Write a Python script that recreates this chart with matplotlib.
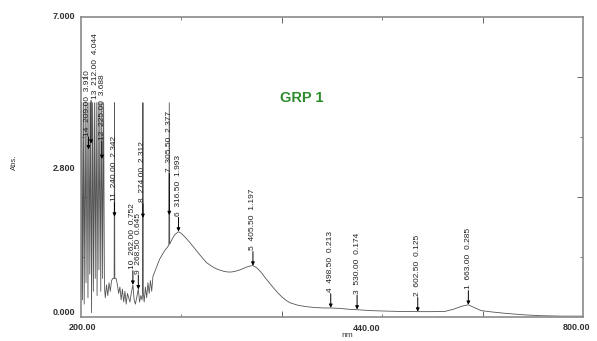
import matplotlib
matplotlib.use("Agg")
import matplotlib.pyplot as plt
from matplotlib.ticker import FixedLocator

plt.rcParams["font.family"] = ["Liberation Sans", "DejaVu Sans"]

# ── spectrum (nm, Abs) ──────────────────────────────────────────────────────
wavelength = [
    200.0, 200.8, 201.8, 202.8, 203.8, 205.0, 206.0, 207.2, 208.3, 209.5,
    210.5, 211.6, 212.6, 213.8, 214.8, 216.0, 217.0, 218.2, 219.2, 220.4,
    221.4, 222.6, 223.6, 224.8, 225.8, 227.0, 228.0, 229.0, 230.5,
    232.0, 233.5, 235.0, 236.5, 238.0, 239.6, 240.0, 240.4, 242.0, 243.5,
    245.0, 246.5, 248.0, 249.5, 251.0, 252.5, 254.0, 255.5, 257.0, 258.5,
    260.0, 262.0, 263.5, 265.0, 266.5, 268.5, 270.0, 271.5, 273.0, 273.7,
    274.0, 274.3, 275.5, 277.0, 278.5, 280.0, 281.5, 283.0, 284.5, 286.0,
    288.0, 291.0, 294.0, 297.0, 300.0, 303.0, 305.0, 305.5, 306.0, 309.0,
    312.0, 316.5, 320.0, 325.0, 330.0, 335.0, 340.0, 345.0, 350.0, 355.0,
    360.0, 365.0, 370.0, 375.0, 380.0, 385.0, 390.0, 395.0, 400.0, 405.5,
    410.0, 415.0, 420.0, 425.0, 430.0, 435.0, 440.0, 445.0, 450.0, 460.0,
    470.0, 480.0, 490.0, 498.5, 510.0, 520.0, 530.0, 545.0, 560.0, 580.0,
    602.5, 620.0, 635.0, 645.0, 655.0, 663.0, 670.0, 678.0, 690.0, 710.0,
    730.0, 750.0, 775.0, 800.0,
]
absorbance = [
    0.60, 5.00, 0.40, 5.00, 0.30, 5.00, 0.80, 5.00, 0.45, 5.00,
    1.00, 5.00, 0.10, 5.00, 0.60, 5.00, 0.90, 5.00, 0.50, 5.00,
    1.10, 5.00, 0.60, 5.00, 0.90, 5.00, 0.70, 0.45, 0.75,
    0.50, 0.80, 0.60, 0.85, 0.90, 0.90, 5.00, 0.90, 0.90, 0.75,
    0.55, 0.70, 0.40, 0.65, 0.35, 0.60, 0.30, 0.55, 0.45, 0.35,
    0.55, 0.75, 0.40, 0.30, 0.45, 0.65, 0.35, 0.50, 0.40, 0.60,
    5.00, 0.60, 0.35, 0.70, 0.45, 0.80, 0.55, 0.85, 0.60, 0.95,
    1.05, 1.20, 1.35, 1.45, 1.55, 1.62, 1.68, 5.00, 1.70, 1.82,
    1.92, 1.99, 1.95, 1.85, 1.74, 1.62, 1.50, 1.38, 1.27, 1.20,
    1.14, 1.10, 1.07, 1.05, 1.05, 1.07, 1.10, 1.14, 1.18, 1.20,
    1.15, 1.05, 0.92, 0.80, 0.68, 0.57, 0.47, 0.39, 0.33, 0.27,
    0.24, 0.22, 0.21, 0.21, 0.20, 0.18, 0.17, 0.15, 0.14, 0.13,
    0.125, 0.125, 0.13, 0.18, 0.25, 0.285, 0.22, 0.15, 0.12, 0.08,
    0.05, 0.03, 0.02, 0.02,
]

# peak pick table
peak_no = [14, 13, 12, 11, 10, 9, 8, 7, 6, 5, 4, 3, 2, 1]
peak_nm = [209.00, 212.00, 225.00, 240.00, 262.00, 268.50, 274.00,
           305.50, 316.50, 405.50, 498.50, 530.00, 602.50, 663.00]
peak_abs = [3.910, 4.044, 3.688, 2.342, 0.752, 0.645, 2.312,
            2.377, 1.993, 1.197, 0.213, 0.174, 0.125, 0.285]

# crowded labels are pushed aside: peak -> (text x in nm, text base in Abs)
label_shift = {14: (208.0, 4.20), 13: (217.5, 5.05), 12: (225.5, 4.10),
               7: (305.5, 3.35)}

fig = plt.figure(figsize=(5.97, 3.41), dpi=100)
ax = fig.add_axes([0.1357, 0.0704, 0.8408, 0.8798])

ax.plot(wavelength, absorbance, color="#555555", lw=0.6)

for n, wl, a in zip(peak_no, peak_nm, peak_abs):
    tx, base = label_shift.get(n, (wl, a + 0.33))
    ax.annotate("", xy=(wl, a), xytext=(wl, base),
                arrowprops=dict(arrowstyle="-|>", color="black", lw=0.7,
                                mutation_scale=5, shrinkA=0, shrinkB=0))
    ax.text(tx, base + 0.03, f"{n}  {wl:.2f}  {a:.3f}", rotation=90,
            ha="center", va="bottom", fontsize=6, color="#222222")

ax.set_xlim(200, 800)
ax.set_ylim(0, 7)

for sp in ax.spines.values():
    sp.set_color("#8a8a8a")
    sp.set_linewidth(1.2)

ax.xaxis.set_major_locator(FixedLocator([440, 680]))
ax.xaxis.set_minor_locator(FixedLocator([320, 560]))
ax.yaxis.set_major_locator(FixedLocator([2.8, 5.6]))
ax.yaxis.set_minor_locator(FixedLocator([1.4, 4.2]))
ax.tick_params(which="both", direction="in", top=True, right=True,
               color="#666666", labelbottom=False, labelleft=False)
ax.tick_params(which="major", length=4, width=0.7)
ax.tick_params(which="minor", length=2.5, width=0.6)

lab = dict(fontsize=6.5, color="#333333", fontweight="bold")
ax.text(-0.012, 1.0, "7.000", transform=ax.transAxes, ha="right", va="center", **lab)
ax.text(-0.012, 0.495, "2.800", transform=ax.transAxes, ha="right", va="center", **lab)
ax.text(-0.012, 0.0, "0.000", transform=ax.transAxes, ha="right", va="bottom", **lab)
ax.text(0.002, -0.035, "200.00", transform=ax.transAxes, ha="center", va="center", **lab)
ax.text(0.569, -0.04, "440.00", transform=ax.transAxes, ha="center", va="center", **lab)
ax.text(0.988, -0.035, "800.00", transform=ax.transAxes, ha="center", va="center", **lab)
ax.text(0.53, -0.062, "nm", transform=ax.transAxes, ha="center", va="center",
        fontsize=6, color="#333333")
fig.text(0.025, 0.525, "Abs.", rotation=90, ha="center", va="center",
         fontsize=5.5, color="#333333")

ax.text(0.44, 0.73, "GRP 1", transform=ax.transAxes, ha="center", va="center",
        fontsize=10.5, fontweight="bold", color="#2e8b2e")

fig.savefig("out.png", dpi=100)
